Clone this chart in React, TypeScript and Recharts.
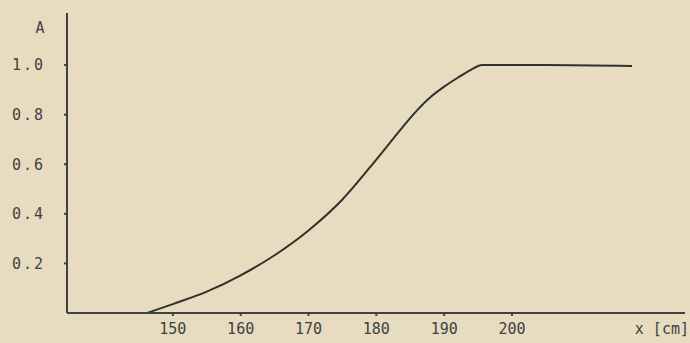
import React from 'react';
import { LineChart, Line, XAxis, YAxis, Label } from 'recharts';

const heightCm = [146.2, 150, 155, 160, 165, 170, 175, 180, 184, 186, 188, 190, 192, 194, 195.6, 205, 217.7];
const probA = [0, 0.036, 0.086, 0.152, 0.233, 0.333, 0.458, 0.619, 0.754, 0.817, 0.871, 0.913, 0.949, 0.982, 1.0, 1.0, 0.996];
const xTicks = [150, 160, 170, 180, 190, 200];
const yTicks = [0.2, 0.4, 0.6, 0.8, 1.0];

const data = heightCm.map((x, i) => ({ x, a: probA[i] }));

const INK = '#40423f';
const FONT = '"DejaVu Sans Mono", "Liberation Mono", monospace';

export default function App() {
  return (
    <div style={{ position: 'absolute', left: 0, top: 0, width: 690, height: 343, background: '#e7dcbf' }}>
      <LineChart width={690} height={343} data={data} margin={{ top: 13, right: 5, bottom: 0, left: 7 }}>
        <XAxis
          dataKey="x"
          type="number"
          domain={[134.4, 225.5]}
          ticks={xTicks}
          allowDataOverflow
          height={30}
          stroke={INK}
          strokeWidth={2}
          tickSize={3}
          tickMargin={7}
          tick={{ fill: INK, fontSize: 15, fontFamily: FONT }}
        >
          <Label
            content={(props: any) => {
              const vb = props.viewBox || { x: 67, y: 313, width: 618 };
              return (
                <text x={689} y={vb.y + 21} textAnchor="end" fill={INK} fontSize={15} fontFamily={FONT}>
                  x [cm]
                </text>
              );
            }}
          />
        </XAxis>
        <YAxis
          type="number"
          domain={[0, 1.21]}
          ticks={yTicks}
          width={60}
          stroke={INK}
          strokeWidth={2}
          tickSize={3}
          tickMargin={19}
          tickFormatter={(v: number) => v.toFixed(1)}
          tick={{ fill: INK, fontSize: 15, fontFamily: FONT, letterSpacing: 2 }}
        >
          <Label
            content={() => (
              <text x={40} y={33} textAnchor="middle" fill={INK} fontSize={15} fontFamily={FONT}>
                A
              </text>
            )}
          />
        </YAxis>
        <Line
          type="monotone"
          dataKey="a"
          stroke="#2e312e"
          strokeWidth={2}
          dot={false}
          isAnimationActive={false}
        />
      </LineChart>
    </div>
  );
}
